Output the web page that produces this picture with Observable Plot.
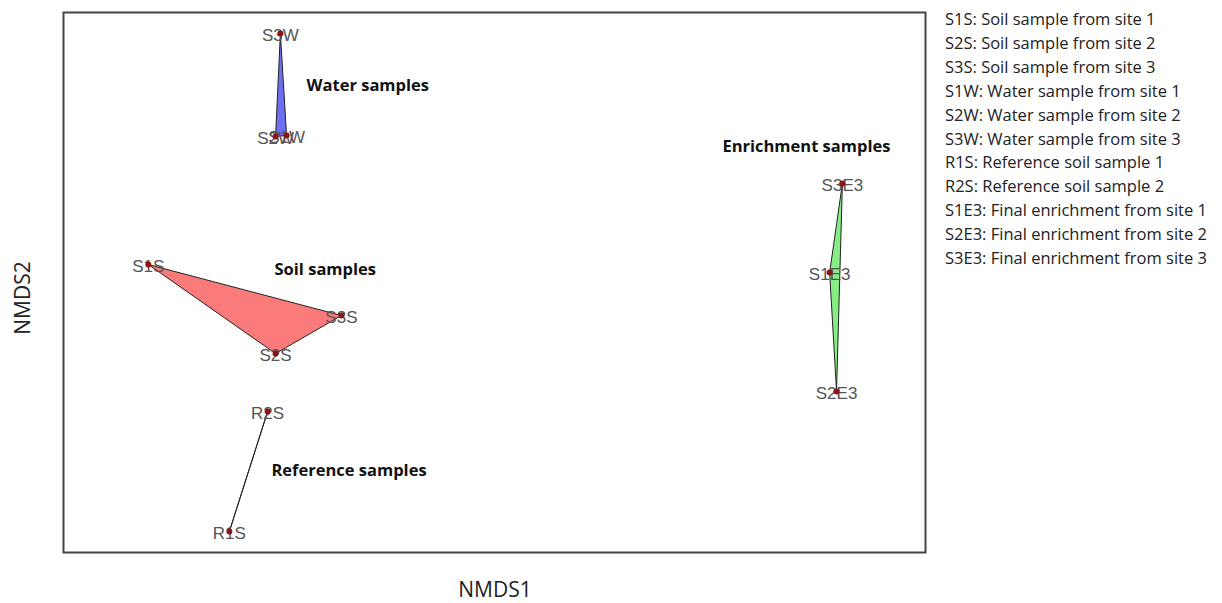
<!DOCTYPE html>
<html>
<head>
<meta charset="utf-8">
<script src="https://cdn.jsdelivr.net/npm/d3@7"></script>
<script src="https://cdn.jsdelivr.net/npm/@observablehq/plot@0.6"></script>
<style>
  html, body { margin: 0; padding: 0; background: #fff; }
  #wrap { position: relative; width: 1222px; height: 603px; overflow: hidden; }
  #chart { position: absolute; left: 0; top: 0; }
  .lbl { position: absolute; font-family: "Open Sans", Lato, sans-serif; color: #222; white-space: nowrap; line-height: 1; }
  #legend { position: absolute; left: 945px; top: 7px; font-family: "Open Sans", Lato, sans-serif; font-size: 16.5px; line-height: 23.9px; color: #222; white-space: nowrap; }
</style>
</head>
<body>
<div id="wrap">
  <div id="chart"></div>
  <div class="lbl" id="xlab" style="left:495px; top:589px; font-size:21px; transform: translate(-50%,-50%);">NMDS1</div>
  <div class="lbl" id="ylab" style="left:22px; top:298px; font-size:21px; transform: translate(-50%,-50%) rotate(-90deg);">NMDS2</div>
  <div id="legend"></div>
</div>
<script>
// Sample scores (NMDS axes)
const samples = ["S1S", "S2S", "S3S", "S1W", "S2W", "S3W", "R1S", "R2S", "S1E3", "S2E3", "S3E3"];
const nmds1   = [-0.754, -0.385, -0.194, -0.353, -0.385, -0.371, -0.519, -0.408, 1.222, 1.242, 1.259];
const nmds2   = [0.060, -0.237, -0.110, 0.490, 0.487, 0.830, -0.830, -0.430, 0.033, -0.363, 0.330];
const groups  = ["Soil", "Soil", "Soil", "Water", "Water", "Water", "Reference", "Reference", "Enrichment", "Enrichment", "Enrichment"];

// Group annotation labels
const groupNames   = ["Water samples", "Soil samples", "Reference samples", "Enrichment samples"];
const groupLabelX  = [-0.295, -0.388, -0.397, 0.911];
const groupLabelY  = [0.657, 0.043, -0.627, 0.453];

// Legend lines
const legendLines = [
  "S1S: Soil sample from site 1",
  "S2S: Soil sample from site 2",
  "S3S: Soil sample from site 3",
  "S1W: Water sample from site 1",
  "S2W: Water sample from site 2",
  "S3W: Water sample from site 3",
  "R1S: Reference soil sample 1",
  "R2S: Reference soil sample 2",
  "S1E3: Final enrichment from site 1",
  "S2E3: Final enrichment from site 2",
  "S3E3: Final enrichment from site 3"
];

const groupDomain = ["Soil", "Water", "Reference", "Enrichment"];
const groupFill   = ["#fb7b7b", "#6e6ef0", "none", "#85ee85"];

const data = samples.map((s, i) => ({ sample: s, x: nmds1[i], y: nmds2[i], group: groups[i] }));
const glabels = groupNames.map((g, i) => ({ name: g, x: groupLabelX[i], y: groupLabelY[i] }));

const chart = Plot.plot({
  width: 1222,
  height: 603,
  marginLeft: 63,
  marginRight: 297,
  marginTop: 12,
  marginBottom: 51,
  x: { domain: [-1.0, 1.5], axis: null },
  y: { domain: [-0.9, 0.9], axis: null },
  color: { domain: groupDomain, range: groupFill },
  marks: [
    Plot.hull(data, { x: "x", y: "y", z: "group", fill: "group", stroke: "#222", strokeWidth: 1 }),
    Plot.text(data, { x: "x", y: "y", text: "sample", fontFamily: "Liberation Sans, Arial, sans-serif", fontSize: 17, fill: "#555", dy: 2 }),
    Plot.dot(data, { x: "x", y: "y", r: 3, fill: "#8b1515", stroke: "none" }),
    Plot.text(glabels, { x: "x", y: "y", text: "name", textAnchor: "start", fontFamily: "Open Sans, Lato, sans-serif", fontWeight: "bold", fontSize: 16.5, fill: "#111" }),
    Plot.frame({ stroke: "#444", strokeWidth: 2 })
  ]
});
document.getElementById("chart").appendChild(chart);

const leg = document.getElementById("legend");
legendLines.forEach(t => {
  const d = document.createElement("div");
  d.textContent = t;
  leg.appendChild(d);
});
</script>
</body>
</html>
